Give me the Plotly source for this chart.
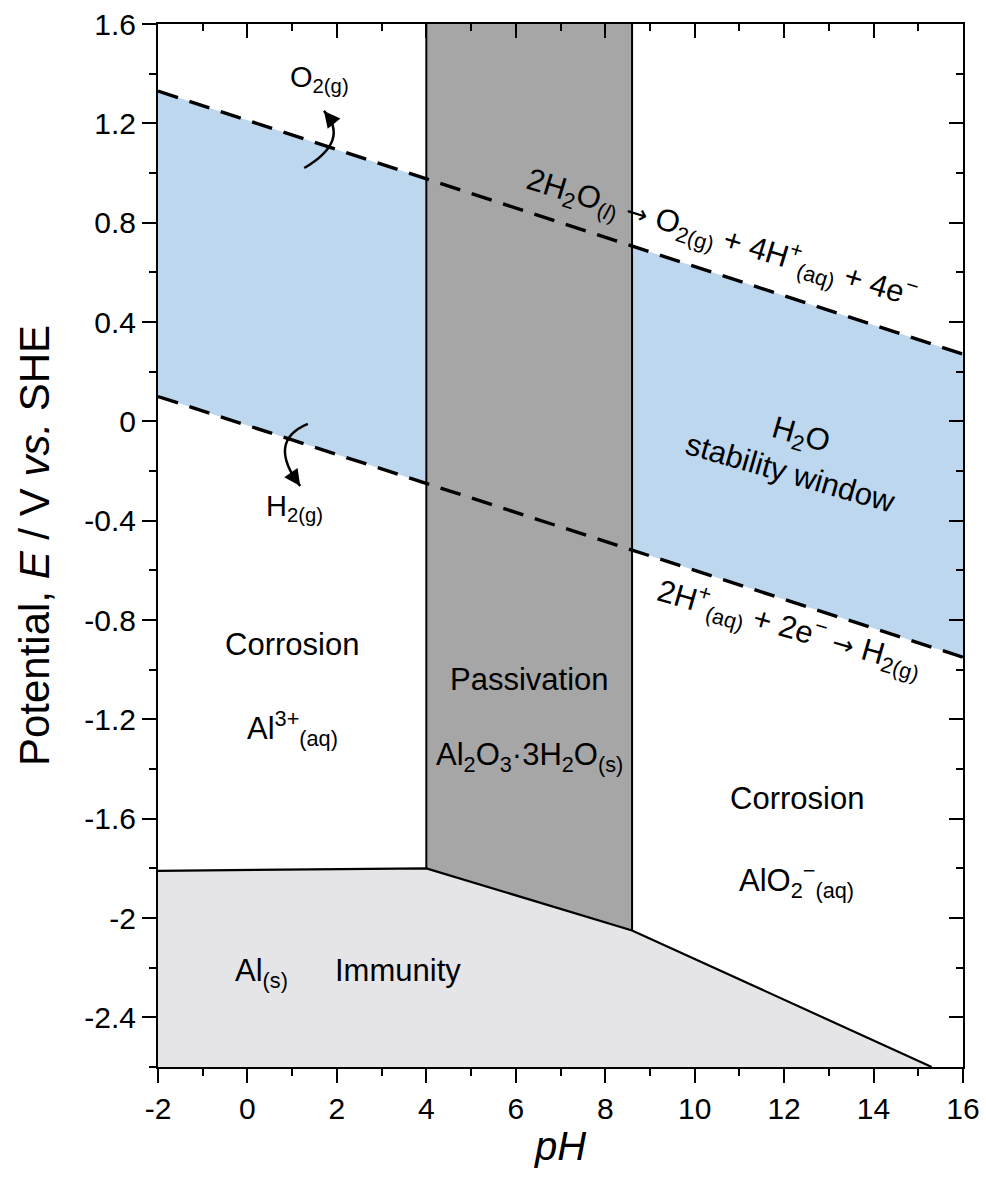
import plotly.graph_objects as go

# ---------------- data ----------------
ph_range = [-2, 16]
E_range = [-2.6, 1.6]

# water stability lines
o2_ph = [-2, 16]
o2_E = [1.33, 0.27]
h2_ph = [-2, 16]
h2_E = [0.10, -0.95]

# passivation (Al2O3·3H2O) boundaries
pass_ph = [4.0, 8.6]
# immunity boundary
imm_ph = [-2, 4.0, 8.6, 15.3]
imm_E = [-1.81, -1.80, -2.05, -2.60]

xtick_vals = [-2, 0, 2, 4, 6, 8, 10, 12, 14, 16]
xtick_text = ["-2", "0", "2", "4", "6", "8", "10", "12", "14", "16"]
ytick_vals = [-2.4, -2.0, -1.6, -1.2, -0.8, -0.4, 0.0, 0.4, 0.8, 1.2, 1.6]
ytick_text = ["-2.4", "-2", "-1.6", "-1.2", "-0.8", "-0.4", "0", "0.4", "0.8", "1.2", "1.6"]

FONT = "Liberation Sans, Arial, Helvetica, sans-serif"
BLUE = "#bdd7ee"
DARK = "#a6a6a6"
LIGHT = "#e5e5e7"

fig = go.Figure()

# blue H2O stability band
fig.add_trace(go.Scatter(
    x=[o2_ph[0], o2_ph[1], h2_ph[1], h2_ph[0], o2_ph[0]],
    y=[o2_E[0], o2_E[1], h2_E[1], h2_E[0], o2_E[0]],
    fill="toself", fillcolor=BLUE, line=dict(width=0), mode="lines",
    hoverinfo="skip", showlegend=False))

# passivation region
fig.add_trace(go.Scatter(
    x=[pass_ph[0], pass_ph[0], pass_ph[1], pass_ph[1], pass_ph[0]],
    y=[E_range[1], imm_E[1], imm_E[2], E_range[1], E_range[1]],
    fill="toself", fillcolor=DARK, line=dict(width=0), mode="lines",
    hoverinfo="skip", showlegend=False))
for p, e in zip(pass_ph, [imm_E[1], imm_E[2]]):
    fig.add_trace(go.Scatter(x=[p, p], y=[e, E_range[1]], mode="lines",
                             line=dict(color="black", width=2),
                             hoverinfo="skip", showlegend=False))

# immunity region
fig.add_trace(go.Scatter(
    x=imm_ph + [imm_ph[0], imm_ph[0]],
    y=imm_E + [E_range[0], imm_E[0]],
    fill="toself", fillcolor=LIGHT, line=dict(width=0), mode="lines",
    hoverinfo="skip", showlegend=False))
fig.add_trace(go.Scatter(x=imm_ph, y=imm_E, mode="lines",
                         line=dict(color="black", width=2.2),
                         hoverinfo="skip", showlegend=False))

# dashed water lines
for xs, ys in [(o2_ph, o2_E), (h2_ph, h2_E)]:
    fig.add_trace(go.Scatter(x=xs, y=ys, mode="lines",
                             line=dict(color="black", width=3.4, dash="21px,12px"),
                             hoverinfo="skip", showlegend=False))

# invisible trace for mirrored (inside-tick) axes
fig.add_trace(go.Scatter(x=[ph_range[0]], y=[E_range[0]], xaxis="x2", yaxis="y2",
                         mode="markers", marker=dict(opacity=0),
                         hoverinfo="skip", showlegend=False))

# curved arrows
o2_arrow = dict(p0=(1.27, 1.02), c=(2.31, 1.13), p1=(1.71, 1.25))
h2_arrow = dict(p0=(1.35, -0.01), c=(0.42, -0.08), p1=(1.18, -0.26))
for a in (o2_arrow, h2_arrow):
    (x0, y0), (cx, cy), (x1, y1) = a["p0"], a["c"], a["p1"]
    fig.add_shape(type="path", xref="x", yref="y",
                  path=f"M {x0},{y0} Q {cx},{cy} {x1},{y1}",
                  line=dict(color="black", width=2.5))
fig.add_annotation(x=o2_arrow["p1"][0], y=o2_arrow["p1"][1], ax=8, ay=10, text="",
                   showarrow=True, arrowhead=2, arrowsize=1.3, arrowwidth=2.5, arrowcolor="black")
fig.add_annotation(x=h2_arrow["p1"][0], y=h2_arrow["p1"][1], ax=-7, ay=-10, text="",
                   showarrow=True, arrowhead=2, arrowsize=1.3, arrowwidth=2.5, arrowcolor="black")

def label(x, y, text, size=31, angle=0):
    fig.add_annotation(x=x, y=y, text=text, showarrow=False, textangle=angle,
                       font=dict(family=FONT, size=size, color="black"))

ARROW = "<span style='font-family:DejaVu Sans;font-size:26px'>→</span>"

label(1.62, 1.38, "O<sub>2(g)</sub>", 29)
label(1.06, -0.35, "H<sub>2(g)</sub>", 29)
label(0.99, -0.90, "Corrosion")
label(1.00, -1.235, "Al<sup>3+</sup><sub>(aq)</sub>")
label(6.3, -1.04, "Passivation")
label(6.3, -1.35, "Al<sub>2</sub>O<sub>3</sub>·3H<sub>2</sub>O<sub>(s)</sub>")
label(12.28, -1.52, "Corrosion")
label(12.28, -1.85, "AlO<sub>2</sub><sup>−</sup><sub>(aq)</sub>")
label(0.32, -2.22, "Al<sub>(s)</sub>")
label(3.37, -2.21, "Immunity")
label(12.27, -0.13, "H<sub>2</sub>O<br>stability window", 31, 16)
label(10.62, 0.74,
      "2H<sub>2</sub>O<sub>(<i>l</i>)</sub> " + ARROW + " "
      "O<sub>2(g)</sub> + 4H<sup>+</sup><sub>(aq)</sub> + 4e<sup>−</sup>", 31, 17)
label(12.13, -0.83,
      "2H<sup>+</sup><sub>(aq)</sub> + 2e<sup>−</sup> " + ARROW + " H<sub>2(g)</sub>",
      31, 16)

axis_common = dict(showgrid=False, zeroline=False, linecolor="black", linewidth=2,
                   tickcolor="black", tickwidth=2, ticklen=14, automargin=False,
                   tickfont=dict(family=FONT, size=30, color="black"))

fig.update_layout(
    width=986, height=1192,
    margin=dict(l=158, r=23, t=24, b=125),
    paper_bgcolor="white", plot_bgcolor="white",
    showlegend=False,
    xaxis=dict(range=ph_range, tickmode="array", tickvals=xtick_vals, ticktext=xtick_text,
               ticks="outside", showline=True, mirror=True,
               minor=dict(tickmode="linear", tick0=-2, dtick=1, ticks="outside",
                          ticklen=7, tickwidth=2, tickcolor="black"),
               title=dict(text="<i>pH</i>", font=dict(family=FONT, size=40, color="black"),
                          standoff=8),
               **axis_common),
    yaxis=dict(range=E_range, tickmode="array", tickvals=ytick_vals, ticktext=ytick_text,
               ticks="outside", showline=True, mirror=True,
               minor=dict(tickmode="linear", tick0=-2.6, dtick=0.2, ticks="outside",
                          ticklen=7, tickwidth=2, tickcolor="black"),
               title=dict(text="Potential, <i>E</i> / V <i>vs.</i> SHE",
                          font=dict(family=FONT, size=42, color="black"), standoff=22),
               **axis_common),
    xaxis2=dict(range=ph_range, overlaying="x", side="top", anchor="y2", automargin=False,
                tickmode="array", tickvals=xtick_vals, ticks="inside", showticklabels=False,
                showgrid=False, zeroline=False, showline=False,
                tickcolor="black", tickwidth=2, ticklen=14,
                minor=dict(tickmode="linear", tick0=-2, dtick=1, ticks="inside",
                           ticklen=7, tickwidth=2, tickcolor="black")),
    yaxis2=dict(range=E_range, overlaying="y", side="right", anchor="x2", automargin=False,
                tickmode="array", tickvals=ytick_vals, ticks="inside", showticklabels=False,
                showgrid=False, zeroline=False, showline=False,
                tickcolor="black", tickwidth=2, ticklen=14,
                minor=dict(tickmode="linear", tick0=-2.6, dtick=0.2, ticks="inside",
                           ticklen=7, tickwidth=2, tickcolor="black")),
)

fig.write_html("out.html", config={"displayModeBar": False},
               post_script="document.body.style.margin='0px';"
                           "document.body.style.overflow='hidden';")
